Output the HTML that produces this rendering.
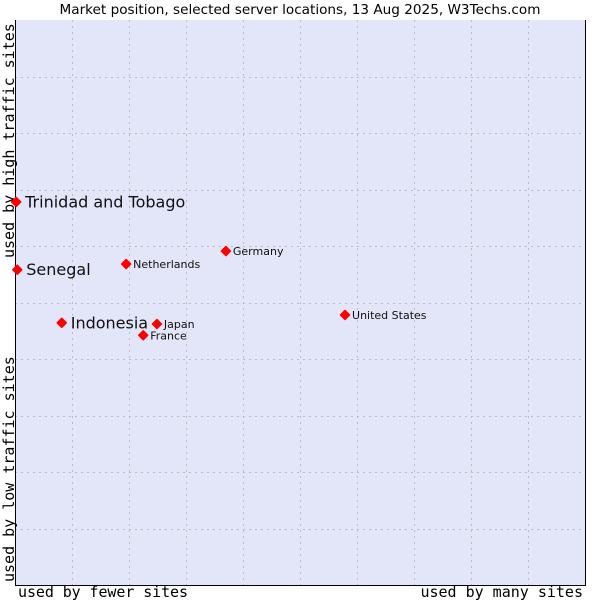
<!DOCTYPE html>
<html><head><meta charset="utf-8"><style>
body{margin:0;background:#fff;}
svg{display:block;}
</style></head><body>
<svg id="chart" width="600" height="600" xmlns="http://www.w3.org/2000/svg">
<rect x="0" y="0" width="600" height="600" fill="#fff"/>
<text x="300" y="14" text-anchor="middle" font-family="DejaVu Sans, sans-serif" font-size="13.6" fill="#000">Market position, selected server locations, 13 Aug 2025, W3Techs.com</text>
<rect x="15" y="20" width="570" height="565" fill="#e3e5f8"/>
<g id="grid"></g>
<line x1="15.5" y1="20" x2="15.5" y2="585" stroke="#000"/>
<line x1="15" y1="585.5" x2="586" y2="585.5" stroke="#000"/>
<line x1="585.5" y1="20" x2="585.5" y2="585" stroke="#000"/>
<text x="18" y="597" textLength="170" font-family="DejaVu Sans Mono, monospace" font-size="15" fill="#000">used by fewer sites</text>
<text x="583" y="597" text-anchor="end" font-family="DejaVu Sans Mono, monospace" font-size="15" fill="#000">used by many sites</text>
<text transform="translate(14,582) rotate(-90)" font-family="DejaVu Sans Mono, monospace" font-size="15" fill="#000">used by low traffic sites</text>
<text transform="translate(14,258) rotate(-90)" font-family="DejaVu Sans Mono, monospace" font-size="15" fill="#000">used by high traffic sites</text>
<g id="points"></g>
</svg>
<script>
const names = ["Trinidad and Tobago","Senegal","Indonesia","Japan","France","Netherlands","Germany","United States"];
const xValues = [0.2,0.4,8.2,24.9,22.5,19.5,37.0,57.9];
const yValues = [67.8,55.8,46.4,46.2,44.2,56.8,59.1,47.8];
const highlighted = [true,true,true,false,false,false,false,false];
const gridTicks = [10,20,30,40,50,60,70,80,90];

const NS="http://www.w3.org/2000/svg";
const X0=15,X1=585,Y0=585,Y1=20;
function xs(v){return X0+(X1-X0)*v/100;}
function ys(v){return Y0-(Y0-Y1)*v/100;}
const grid=document.getElementById('grid');
gridTicks.forEach(t=>{
  const v=document.createElementNS(NS,'line');
  
  
  const x=Math.round(xs(t))+0.5;
  v.setAttribute('x1',x);v.setAttribute('x2',x);v.setAttribute('y1',Y1);v.setAttribute('y2',Y0);
  v.setAttribute('stroke','#bcbcbc');v.setAttribute('stroke-dasharray','2,4');
  grid.appendChild(v);
  const h=document.createElementNS(NS,'line');
  
  
  const y=Math.round(ys(t))+0.5;
  h.setAttribute('x1',X0);h.setAttribute('x2',X1);h.setAttribute('y1',y);h.setAttribute('y2',y);
  h.setAttribute('stroke','#bcbcbc');h.setAttribute('stroke-dasharray','2,4');
  grid.appendChild(h);
});
const pts=document.getElementById('points');
names.forEach((n,i)=>{
  const cx=xs(xValues[i]),cy=ys(yValues[i]);
  const d=document.createElementNS(NS,'path');
  
  
  d.setAttribute('d',`M${cx-4.5},${cy} L${cx},${cy-4.5} L${cx+4.5},${cy} L${cx},${cy+4.5} Z`);
  d.setAttribute('fill','#f00');d.setAttribute('stroke','#f00');d.setAttribute('stroke-width','1.5');d.setAttribute('stroke-linejoin','round');
  pts.appendChild(d);
  const t=document.createElementNS(NS,'text');
  
  
  const big=highlighted[i];
  t.setAttribute('x',cx+(big?9:7));
  t.setAttribute('y',cy+(big?5.5:4));
  t.setAttribute('font-family','DejaVu Sans, sans-serif');
  t.setAttribute('font-size',big?'16':'11');
  t.setAttribute('fill','#111');
  t.textContent=n;
  pts.appendChild(t);
});
</script>
</body></html>
